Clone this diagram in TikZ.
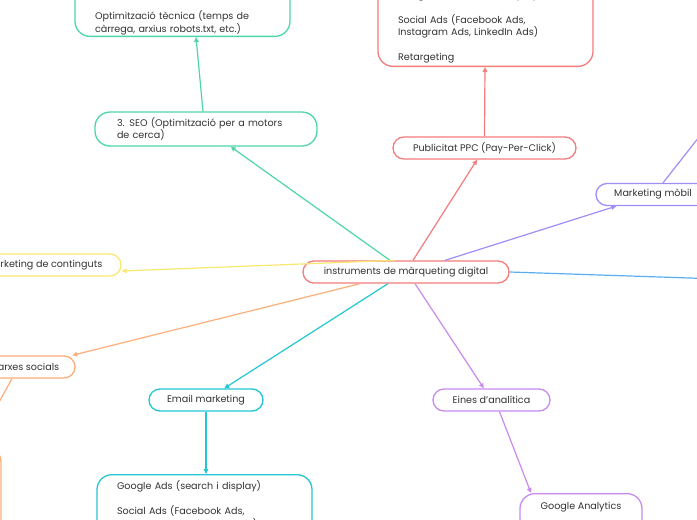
\documentclass[tikz,border=0pt]{standalone}
\usepackage{fontspec}
\setmainfont{Poppins}
\usetikzlibrary{arrows.meta}
\definecolor{txt}{HTML}{333333}
\definecolor{cred}{HTML}{F47C7C}
\definecolor{cgreen}{HTML}{4FD6A6}
\definecolor{cmob}{HTML}{9C8FF7}
\definecolor{cyel}{HTML}{F8E870}
\definecolor{cora}{HTML}{FDAE7A}
\definecolor{ccyan}{HTML}{22C7D3}
\definecolor{cvio}{HTML}{C98AF0}
\definecolor{cblue}{HTML}{5AAEF0}
\newcommand{\fnt}{\fontsize{9.6}{12.5}\selectfont}
\tikzset{
  box/.style={draw, line width=1.3pt, fill=white, text=txt, font=\fnt},
  pill/.style={box, rounded corners=11pt, minimum height=22pt, inner xsep=2pt, inner ysep=2pt, align=center},
  multi/.style={box, rounded corners=15pt, align=left, text width=175pt, inner xsep=20pt},
  conn/.style={line width=1.2pt, -{Triangle[length=5pt,width=4.5pt]}}
}
\begin{document}
\begin{tikzpicture}[x=1pt,y=-1pt]
\useasboundingbox (0,0) rectangle (697,520);
\clip (0,0) rectangle (697,520);
\fill[white] (0,0) rectangle (697,520);

% nodes
\node[pill, draw=cred, minimum width=206pt] (c) at (406,272) {instruments de màrqueting digital};
\node[box, draw=cgreen, rounded corners=15pt, align=left, text width=178pt, inner xsep=22pt, minimum height=34pt] (seo) at (206,129) {3. SEO (Optimització per a motors\\de cerca)};
\node[multi, draw=cgreen, anchor=south, inner ysep=1.5pt] (seochild) at (182.5,37) {\rule{0pt}{40pt}Optimització tècnica (temps de\\càrrega, arxius robots.txt, etc.)};
\node[pill, draw=cred, minimum width=183pt] (ppc) at (484.5,148) {Publicitat PPC (Pay-Per-Click)};
\node[multi, draw=cred, anchor=south, inner ysep=3pt] (ppcchild) at (485.5,67) {\rule{0pt}{20pt}Google Ads (search i display)\\[12.5pt]Social Ads (Facebook Ads,\\Instagram Ads, LinkedIn Ads)\\[12.5pt]Retargeting};
\node[pill, draw=cmob, minimum width=114pt] (mob) at (653,194.5) {Marketing mòbil};
\node[pill, draw=cyel, minimum width=154pt] (cont) at (44,265) {Marketing de continguts};
\node[pill, draw=cora, minimum width=99pt] (xar) at (25.5,367) {Xarxes socials};
\node[box, draw=cora, rounded corners=15pt, minimum width=200pt, minimum height=150pt] (xchild) at (-99,522) {};
\node[pill, draw=ccyan, minimum width=114pt] (email) at (206,400) {Email marketing};
\node[multi, draw=ccyan, anchor=north, inner ysep=6pt] (emailchild) at (204.5,474) {Google Ads (search i display)\\[12.5pt]Social Ads (Facebook Ads,\\Instagram Ads, LinkedIn Ads)\\[12.5pt]Retargeting};
\node[pill, draw=cvio, minimum width=117pt] (eines) at (491.5,400) {Eines d’analítica};
\node[box, draw=cvio, rounded corners=15pt, minimum width=122pt, minimum height=40pt, anchor=north, inner ysep=5pt] (ga) at (581,493) {\raisebox{15pt}{Google Analytics}};

% connectors
\draw[conn, cgreen] ([xshift=-16pt]c.north) -- (seo);
\draw[conn, cgreen] ([xshift=-3pt]seo.north) -- ([xshift=13.5pt]seochild.south);
\draw[conn, cred] ([xshift=7pt]c.north) -- (ppc);
\draw[conn, cred] (ppc.north) -- ([xshift=-0.5pt]ppcchild.south);
\draw[conn, cmob] ([xshift=39pt]c.north) -- (mob);
\draw[conn, cmob] ([xshift=10pt]mob.north) -- (725,104);
\draw[conn, cyel] ([xshift=-11pt]c.north) -- ([yshift=-6pt]cont.east);
\draw[conn, cblue] (c.east) -- (780,281);
\draw[conn, cora] ([xshift=-46pt]c.south) -- (xar);
\draw[conn, cora] ([xshift=-13.5pt]xar.south) -- ([xshift=-27pt]xchild.north east);
\draw[conn, ccyan] ([xshift=-18pt]c.south) -- (email);
\draw[conn, ccyan] (email.south) -- ([xshift=1.5pt]emailchild.north);
\draw[conn, cvio] ([xshift=9pt]c.south) -- (eines);
\draw[conn, cvio] ([xshift=8pt]eines.south) -- ([xshift=-50pt]ga.north);
\end{tikzpicture}
\end{document}
